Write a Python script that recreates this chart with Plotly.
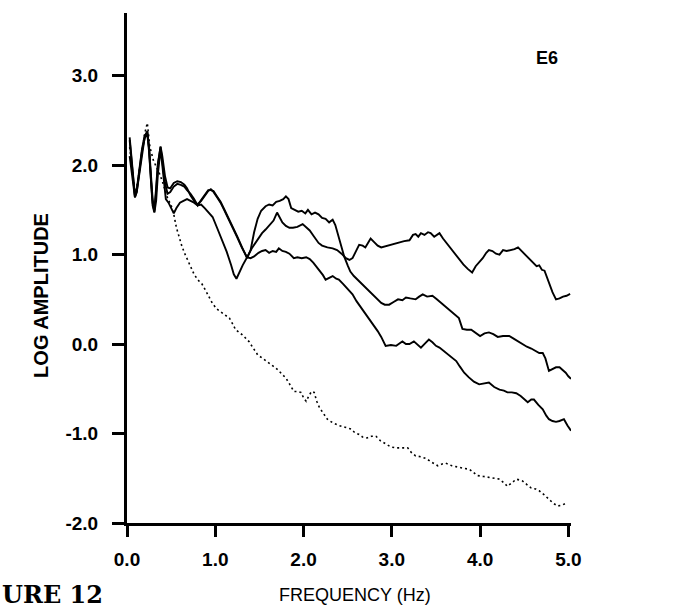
import plotly.graph_objects as go

# ---- series: frequency (Hz) and log amplitude ----
pcoda_freq = [0.03, 0.05, 0.07, 0.09, 0.11, 0.14, 0.17, 0.20, 0.23, 0.25, 0.27, 0.29, 0.31, 0.33, 0.35,
              0.38, 0.40, 0.43, 0.46, 0.49, 0.53, 0.57, 0.61, 0.65, 0.68, 0.72, 0.76, 0.80, 0.84, 0.88,
              0.92, 0.95, 0.98, 1.02, 1.06, 1.10, 1.15, 1.20, 1.25, 1.30, 1.36, 1.42, 1.48, 1.53, 1.57,
              1.62, 1.66, 1.70, 1.73, 1.76, 1.80, 1.84, 1.88, 1.93, 1.99, 2.03, 2.07, 2.12, 2.17, 2.21,
              2.27, 2.33, 2.38, 2.43, 2.48, 2.52, 2.555, 2.60, 2.63, 2.67, 2.70, 2.73, 2.76, 2.80, 2.84,
              2.88, 2.95, 3.02, 3.08, 3.14, 3.20, 3.24, 3.27, 3.30, 3.33, 3.37, 3.41, 3.44, 3.48, 3.51,
              3.54, 3.58, 3.62, 3.66, 3.71, 3.76, 3.81, 3.86, 3.91, 3.95, 3.99, 4.03, 4.07, 4.10, 4.14,
              4.18, 4.22, 4.26, 4.30, 4.35, 4.39, 4.43, 4.46, 4.50, 4.55, 4.60, 4.64, 4.67, 4.70, 4.73,
              4.76, 4.79, 4.82, 4.86, 4.90, 4.94, 4.98, 5.02]
pcoda_amp = [2.31, 2.12, 1.85, 1.66, 1.72, 1.95, 2.18, 2.33, 2.37, 2.20, 1.90, 1.62, 1.50, 1.70, 2.00,
             2.21, 2.10, 1.88, 1.75, 1.74, 1.80, 1.82, 1.81, 1.78, 1.74, 1.66, 1.60, 1.56, 1.60, 1.66,
             1.71, 1.73, 1.70, 1.64, 1.58, 1.50, 1.40, 1.29, 1.19, 1.08, 0.97, 1.08, 1.17, 1.24, 1.28,
             1.33, 1.38, 1.47, 1.42, 1.36, 1.32, 1.30, 1.30, 1.31, 1.34, 1.31, 1.27, 1.20, 1.13, 1.10,
             1.08, 1.07, 1.05, 1.01, 0.96, 0.94, 0.96, 1.05, 1.11, 1.10, 1.08, 1.13, 1.18, 1.14, 1.10,
             1.08, 1.10, 1.12, 1.13, 1.15, 1.16, 1.22, 1.23, 1.20, 1.24, 1.22, 1.25, 1.24, 1.20, 1.22,
             1.24, 1.18, 1.13, 1.08, 1.02, 0.95, 0.89, 0.84, 0.80, 0.87, 0.91, 0.96, 1.02, 1.05, 1.04,
             1.01, 1.00, 1.05, 1.04, 1.05, 1.06, 1.08, 1.05, 1.01, 0.96, 0.92, 0.87, 0.88, 0.83, 0.82,
             0.74, 0.66, 0.58, 0.50, 0.51, 0.53, 0.54, 0.56]

sn_freq = [0.03, 0.05, 0.07, 0.09, 0.11, 0.14, 0.17, 0.20, 0.23, 0.25, 0.27, 0.29, 0.31, 0.33, 0.35,
           0.38, 0.40, 0.43, 0.46, 0.49, 0.53, 0.57, 0.61, 0.65, 0.68, 0.72, 0.76, 0.80, 0.84, 0.88,
           0.92, 0.95, 0.98, 1.02, 1.06, 1.10, 1.15, 1.20, 1.25, 1.30, 1.36, 1.40, 1.44, 1.48, 1.52,
           1.57, 1.61, 1.65, 1.69, 1.73, 1.77, 1.80, 1.83, 1.86, 1.90, 1.94, 1.98, 2.02, 2.05, 2.09,
           2.13, 2.17, 2.21, 2.25, 2.29, 2.33, 2.36, 2.39, 2.42, 2.46, 2.50, 2.53, 2.57, 2.63, 2.68,
           2.73, 2.78, 2.83, 2.88, 2.92, 2.97, 3.02, 3.07, 3.12, 3.16, 3.21, 3.27, 3.31, 3.35, 3.40,
           3.46, 3.51, 3.56, 3.61, 3.66, 3.71, 3.76, 3.80, 3.85, 3.90, 3.95, 4.00, 4.05, 4.10, 4.15,
           4.20, 4.26, 4.33, 4.38, 4.43, 4.48, 4.53, 4.58, 4.63, 4.67, 4.71, 4.74, 4.78, 4.82, 4.86,
           4.90, 4.94, 4.97, 5.00, 5.03]
sn_amp = [2.10, 1.95, 1.78, 1.64, 1.70, 1.92, 2.15, 2.31, 2.38, 2.18, 1.86, 1.58, 1.48, 1.72, 2.02,
          2.20, 2.05, 1.80, 1.68, 1.70, 1.76, 1.79, 1.78, 1.76, 1.72, 1.68, 1.62, 1.55, 1.61, 1.67,
          1.72, 1.72, 1.71, 1.65, 1.59, 1.51, 1.41, 1.30, 1.20, 1.09, 0.96, 1.05, 1.25, 1.40, 1.49,
          1.54, 1.56, 1.55, 1.59, 1.60, 1.62, 1.65, 1.62, 1.52, 1.50, 1.48, 1.49, 1.46, 1.50, 1.45,
          1.47, 1.45, 1.41, 1.40, 1.36, 1.39, 1.33, 1.22, 1.10, 0.98, 0.88, 0.81, 0.76, 0.70, 0.66,
          0.61, 0.555, 0.50, 0.46, 0.44, 0.44, 0.47, 0.50, 0.49, 0.52, 0.51, 0.50, 0.53, 0.555, 0.53,
          0.54, 0.50, 0.46, 0.41, 0.38, 0.34, 0.29, 0.17, 0.16, 0.16, 0.12, 0.09, 0.12, 0.13, 0.11,
          0.08, 0.09, 0.09, 0.06, 0.03, 0.00, -0.03, -0.05, -0.08, -0.10, -0.10, -0.16, -0.30, -0.28, -0.26,
          -0.26, -0.29, -0.32, -0.36, -0.39]

lg_freq = [0.03, 0.05, 0.07, 0.09, 0.11, 0.14, 0.17, 0.20, 0.23, 0.25, 0.27, 0.29, 0.31, 0.33, 0.35,
           0.38, 0.40, 0.42, 0.44, 0.47, 0.50, 0.53, 0.56, 0.60, 0.64, 0.68, 0.72, 0.76, 0.80, 0.84,
           0.88, 0.92, 0.97, 1.02, 1.08, 1.13, 1.18, 1.21, 1.24, 1.27, 1.31, 1.36, 1.40, 1.44, 1.49,
           1.53, 1.57, 1.61, 1.65, 1.69, 1.72, 1.76, 1.80, 1.84, 1.89, 1.93, 1.98, 2.03, 2.07, 2.11,
           2.14, 2.18, 2.22, 2.25, 2.29, 2.33, 2.37, 2.40, 2.45, 2.50, 2.555, 2.60, 2.65, 2.71, 2.76,
           2.80, 2.84, 2.88, 2.93, 2.99, 3.05, 3.09, 3.12, 3.16, 3.20, 3.25, 3.29, 3.33, 3.38, 3.42,
           3.46, 3.50, 3.54, 3.58, 3.61, 3.65, 3.69, 3.73, 3.77, 3.82, 3.87, 3.93, 3.99, 4.04, 4.10,
           4.16, 4.22, 4.27, 4.31, 4.36, 4.41, 4.46, 4.50, 4.54, 4.58, 4.61, 4.66, 4.71, 4.75, 4.78,
           4.82, 4.86, 4.90, 4.95, 4.99, 5.03]
lg_amp = [2.28, 2.08, 1.82, 1.64, 1.70, 1.96, 2.16, 2.30, 2.35, 2.15, 1.85, 1.55, 1.47, 1.60, 1.90,
          2.18, 2.00, 1.80, 1.62, 1.58, 1.52, 1.46, 1.52, 1.58, 1.60, 1.62, 1.60, 1.58, 1.55, 1.56,
          1.52, 1.47, 1.42, 1.30, 1.15, 1.03, 0.88, 0.78, 0.73, 0.80, 0.88, 0.97, 0.96, 0.98, 1.02,
          1.04, 1.05, 1.02, 1.04, 1.03, 1.07, 1.04, 1.03, 1.01, 0.96, 0.97, 0.96, 0.97, 0.95, 0.91,
          0.87, 0.83, 0.77, 0.72, 0.74, 0.76, 0.73, 0.72, 0.67, 0.61, 0.555, 0.48, 0.41, 0.33, 0.26,
          0.21, 0.145, 0.08, -0.02, -0.01, -0.02, 0.01, 0.03, 0.00, 0.00, 0.03, 0.00, -0.04, 0.01, 0.05,
          0.02, -0.02, -0.04, -0.07, -0.10, -0.12, -0.15, -0.19, -0.25, -0.32, -0.37, -0.42, -0.45, -0.44, -0.43,
          -0.48, -0.51, -0.52, -0.54, -0.54, -0.55, -0.58, -0.62, -0.65, -0.62, -0.62, -0.68, -0.73, -0.80, -0.84,
          -0.86, -0.87, -0.86, -0.84, -0.91, -0.97]

noise_freq = [0.03, 0.06, 0.09, 0.12, 0.16, 0.20, 0.23, 0.26, 0.30, 0.34, 0.37, 0.40, 0.43, 0.46, 0.50,
              0.53, 0.56, 0.59, 0.62, 0.65, 0.70, 0.76, 0.80, 0.85, 0.89, 0.93, 0.97, 1.02, 1.08, 1.12,
              1.16, 1.20, 1.23, 1.27, 1.31, 1.38, 1.43, 1.48, 1.55, 1.61, 1.66, 1.70, 1.75, 1.80, 1.85,
              1.89, 1.93, 1.97, 2.00, 2.03, 2.06, 2.09, 2.12, 2.15, 2.18, 2.23, 2.27, 2.33, 2.40, 2.47,
              2.54, 2.58, 2.63, 2.67, 2.72, 2.77, 2.82, 2.87, 2.93, 2.99, 3.05, 3.12, 3.18, 3.22, 3.27,
              3.33, 3.39, 3.45, 3.52, 3.57, 3.61, 3.68, 3.76, 3.82, 3.88, 3.93, 3.97, 4.04, 4.10, 4.16,
              4.22, 4.27, 4.31, 4.36, 4.41, 4.45, 4.48, 4.53, 4.58, 4.63, 4.67, 4.72, 4.78, 4.83, 4.88,
              4.93, 4.99]
noise_amp = [2.20, 1.95, 1.68, 1.80, 2.10, 2.35, 2.47, 2.20, 2.05, 1.97, 1.90, 1.82, 1.72, 1.63, 1.55,
             1.45, 1.30, 1.19, 1.10, 1.02, 0.91, 0.78, 0.72, 0.67, 0.60, 0.52, 0.45, 0.39, 0.35, 0.32,
             0.29, 0.22, 0.16, 0.13, 0.10, 0.03, -0.05, -0.12, -0.17, -0.21, -0.25, -0.28, -0.33, -0.38, -0.46,
             -0.53, -0.53, -0.54, -0.60, -0.64, -0.58, -0.53, -0.54, -0.64, -0.71, -0.78, -0.84, -0.88, -0.91, -0.93,
             -0.95, -0.99, -1.01, -1.04, -1.05, -1.03, -1.03, -1.08, -1.12, -1.15, -1.16, -1.16, -1.16, -1.21, -1.25,
             -1.26, -1.28, -1.32, -1.36, -1.34, -1.33, -1.36, -1.38, -1.39, -1.40, -1.44, -1.47, -1.48, -1.49, -1.50,
             -1.51, -1.55, -1.59, -1.55, -1.51, -1.52, -1.53, -1.57, -1.61, -1.62, -1.64, -1.68, -1.74, -1.78, -1.81,
             -1.80, -1.77]

# ---- axis ticks ----
x_tick_vals = [0, 1, 2, 3, 4, 5]
x_tick_text = ["0.0", "1.0", "2.0", "3.0", "4.0", "5.0"]
y_tick_vals = [-2, -1, 0, 1, 2, 3]
y_tick_text = ["-2.0", "-1.0", "0.0", "1.0", "2.0", "3.0"]

# ---- curve end labels ----
series_names = ["P-CODA", "Sn", "Lg", "NOISE"]
label_y = [0.56, -0.41, -0.99, -1.78]

SANS = "Liberation Sans, Arial, Helvetica, sans-serif"

fig = go.Figure()
solid = dict(color="black", width=1.9)
fig.add_trace(go.Scatter(x=pcoda_freq, y=pcoda_amp, mode="lines", line=solid, name="P-CODA"))
fig.add_trace(go.Scatter(x=sn_freq, y=sn_amp, mode="lines", line=solid, name="Sn"))
fig.add_trace(go.Scatter(x=lg_freq, y=lg_amp, mode="lines", line=solid, name="Lg"))
fig.add_trace(go.Scatter(x=noise_freq, y=noise_amp, mode="lines",
                         line=dict(color="black", width=1.6, dash="2px,3px"), name="NOISE"))

annotations = []
for name, yv in zip(series_names, label_y):
    annotations.append(dict(x=5.17, y=yv, xref="x", yref="y", text=name, showarrow=False,
                            xanchor="left", yanchor="middle",
                            font=dict(family=SANS, size=19, color="black")))
annotations += [
    dict(x=4.76, y=3.20, xref="x", yref="y", text="E6", showarrow=False,
         xanchor="center", yanchor="middle",
         font=dict(family=SANS, size=18, color="black", weight="bold")),
    dict(x=-0.194, y=0.447, xref="paper", yref="paper", text="LOG AMPLITUDE", showarrow=False,
         xanchor="center", yanchor="middle", textangle=-90,
         font=dict(family=SANS, size=20, color="black", weight="bold")),
    dict(x=0.5136, y=-0.141, xref="paper", yref="paper", text="FREQUENCY (Hz)", showarrow=False,
         xanchor="center", yanchor="middle",
         font=dict(family=SANS, size=18, color="black")),
    dict(x=-0.287, y=-0.141, xref="paper", yref="paper", text="URE 12", showarrow=False,
         xanchor="left", yanchor="middle",
         font=dict(family="DejaVu Serif, Liberation Serif, serif", size=24, color="black",
                   weight="bold")),
]

axis_common = dict(showline=True, linewidth=3, linecolor="black", ticks="outside", tickwidth=3,
                   tickcolor="black", showgrid=False, zeroline=False,
                   tickfont=dict(family=SANS, size=19, color="black", weight="bold"))

fig.update_layout(
    width=673, height=610,
    margin=dict(l=127, r=102, t=13, b=87),
    paper_bgcolor="white", plot_bgcolor="white",
    showlegend=False,
    annotations=annotations,
    xaxis=dict(range=[0, 5.03], tickvals=x_tick_vals, ticktext=x_tick_text, ticklen=11,
               ticklabelstandoff=6, **axis_common),
    yaxis=dict(range=[-2, 3.7], tickvals=y_tick_vals, ticktext=y_tick_text, ticklen=12,
               ticklabelstandoff=10, **axis_common),
)

fig.write_html("out.html")
